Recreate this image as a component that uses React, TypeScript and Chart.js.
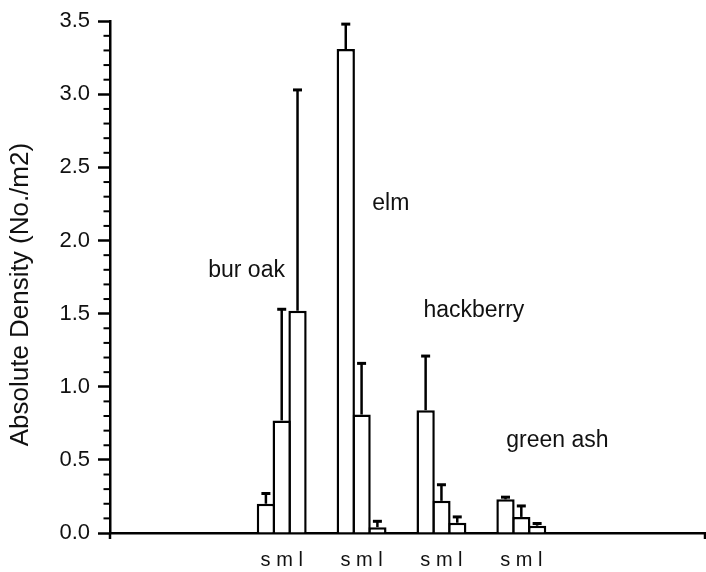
import React, { useEffect, useRef } from 'react';
import { Chart, registerables } from 'chart.js';

Chart.register(...registerables);

// ---- data ----
const GROUPS = ['bur oak', 'elm', 'hackberry', 'green ash'];
const GROUP_X = [1, 2, 3, 4];
const SIZE_CLASSES = ['s', 'm', 'l'];
const SMALL = [0.2, 3.31, 0.84, 0.23];
const MEDIUM = [0.77, 0.81, 0.22, 0.11];
const LARGE = [1.52, 0.04, 0.07, 0.05];
const SMALL_SE = [0.07, 0.17, 0.37, 0.015];
const MEDIUM_SE = [0.76, 0.35, 0.11, 0.075];
const LARGE_SE = [1.51, 0.04, 0.04, 0.015];
const Y_TICKS = [0, 0.5, 1.0, 1.5, 2.0, 2.5, 3.0, 3.5];
const X_TICK_LABEL = 's m l';
const Y_TITLE = 'Absolute Density (No./m2)';

// annotation placement (data space of the plot)
const GROUP_LABEL_X = [0.56, 2.366, 3.406, 4.452];
const GROUP_LABEL_Y = [1.75, 2.21, 1.48, 0.585];

const INK = '#000000';
const TEXT = '#111111';
const FONT = '"Liberation Sans", Arial, Helvetica, sans-serif';

const SERIES = [
  { label: SIZE_CLASSES[0], values: SMALL, se: SMALL_SE },
  { label: SIZE_CLASSES[1], values: MEDIUM, se: MEDIUM_SE },
  { label: SIZE_CLASSES[2], values: LARGE, se: LARGE_SE },
];

const decorations = {
  id: 'decorations',
  afterDatasetsDraw(chart: any) {
    const ctx = chart.ctx;
    const ys = chart.scales.y;
    ctx.save();
    ctx.strokeStyle = INK;
    SERIES.forEach((s, di) => {
      const meta = chart.getDatasetMeta(di);
      meta.data.forEach((bar: any, i: number) => {
        const x = bar.x;
        const yTop = bar.y;
        const yErr = ys.getPixelForValue(s.values[i] + s.se[i]);
        ctx.lineWidth = 2.5;
        ctx.beginPath();
        ctx.moveTo(x, yTop);
        ctx.lineTo(x, yErr);
        ctx.stroke();
        ctx.lineWidth = 3;
        ctx.beginPath();
        ctx.moveTo(x - 4.5, yErr);
        ctx.lineTo(x + 4.5, yErr);
        ctx.stroke();
      });
    });
    ctx.restore();
  },
  afterDraw(chart: any) {
    const ctx = chart.ctx;
    const xs = chart.scales.x;
    const ys = chart.scales.y;
    const area = chart.chartArea;
    ctx.save();
    ctx.strokeStyle = INK;
    // minor y ticks every 0.1
    ctx.lineWidth = 2;
    for (let i = 0; i <= 35; i++) {
      if (i % 5 === 0) continue;
      const y = ys.getPixelForValue(i / 10);
      ctx.beginPath();
      ctx.moveTo(area.left - 6.5, y);
      ctx.lineTo(area.left, y);
      ctx.stroke();
    }
    // end ticks on the x axis
    ctx.lineWidth = 2.5;
    [area.left, area.right].forEach((x: number) => {
      ctx.beginPath();
      ctx.moveTo(x, area.bottom);
      ctx.lineTo(x, area.bottom + 6);
      ctx.stroke();
    });
    // group annotations
    ctx.fillStyle = TEXT;
    ctx.font = `23px ${FONT}`;
    ctx.textAlign = 'center';
    ctx.textBaseline = 'alphabetic';
    GROUPS.forEach((g, i) => {
      ctx.fillText(g, xs.getPixelForValue(GROUP_LABEL_X[i]), ys.getPixelForValue(GROUP_LABEL_Y[i]));
    });
    // y axis title
    ctx.font = `26px ${FONT}`;
    ctx.textBaseline = 'middle';
    ctx.translate(20.5, (area.top + area.bottom) / 2 + 17.5);
    ctx.rotate(-Math.PI / 2);
    ctx.fillText(Y_TITLE, 0, 0);
    ctx.restore();
  },
};

export default function App() {
  const canvasRef = useRef<HTMLCanvasElement | null>(null);

  useEffect(() => {
    const canvas = canvasRef.current;
    if (!canvas) return;
    const chart = new Chart(canvas, {
      type: 'bar',
      data: {
        datasets: SERIES.map((s) => ({
          label: s.label,
          data: s.values.map((v, i) => ({ x: GROUP_X[i], y: v })),
          backgroundColor: '#ffffff',
          borderColor: INK,
          borderWidth: 2.5,
          borderSkipped: 'start',
          barPercentage: 1.158,
          categoryPercentage: 0.594,
          grouped: true,
        })),
      },
      options: {
        responsive: false,
        animation: false,
        devicePixelRatio: 1,
        layout: { padding: { left: 0, right: 1, top: 17, bottom: 0 } },
        plugins: {
          legend: { display: false },
          tooltip: { enabled: false },
        },
        scales: {
          x: {
            type: 'linear',
            min: -1.15,
            max: 6.3,
            offset: false,
            z: 1,
            afterBuildTicks: (scale: any) => {
              scale.ticks = GROUP_X.map((v) => ({ value: v }));
            },
            afterFit: (scale: any) => {
              scale.height = 39;
            },
            ticks: {
              autoSkip: false,
              maxRotation: 0,
              padding: 15,
              color: TEXT,
              font: { size: 20, family: FONT },
              callback: () => X_TICK_LABEL,
            },
            grid: { display: false, offset: false, drawOnChartArea: false, drawTicks: false },
            border: { display: true, color: INK, width: 2.5 },
          },
          y: {
            type: 'linear',
            min: 0,
            max: 3.5,
            afterBuildTicks: (scale: any) => {
              scale.ticks = Y_TICKS.map((v) => ({ value: v }));
            },
            afterFit: (scale: any) => {
              scale.width = 110;
            },
            ticks: {
              padding: 8,
              color: TEXT,
              font: { size: 22, family: FONT },
              callback: (v: any) => Number(v).toFixed(1),
            },
            grid: {
              display: true,
              drawOnChartArea: false,
              drawTicks: true,
              tickLength: 12,
              tickWidth: 2.5,
              tickColor: INK,
            },
            border: { display: true, color: INK, width: 2.5 },
          },
        },
      } as any,
      plugins: [decorations],
    });
    return () => chart.destroy();
  }, []);

  return (
    <div style={{ position: 'fixed', left: 0, top: 0, width: 706, height: 572, background: '#fff' }}>
      <canvas ref={canvasRef} width={706} height={572} />
    </div>
  );
}
